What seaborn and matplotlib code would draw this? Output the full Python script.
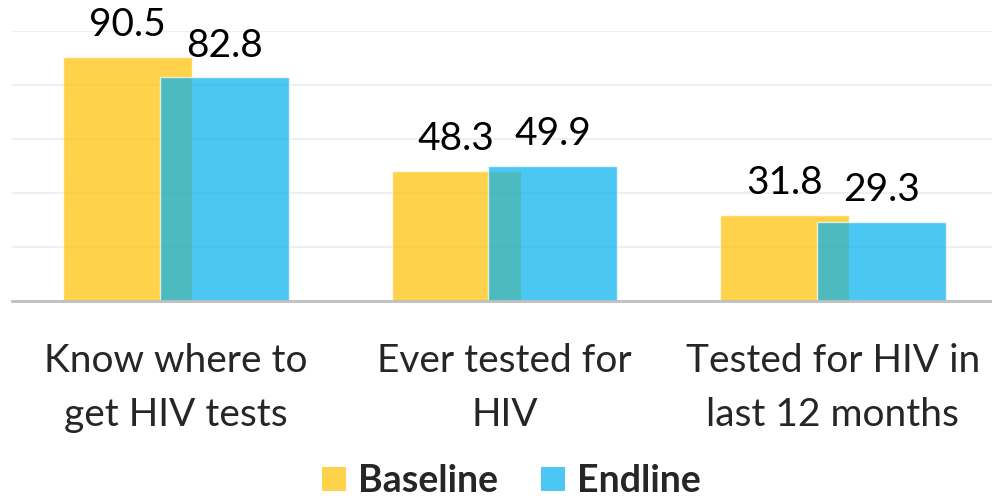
import matplotlib
matplotlib.use("Agg")
import matplotlib.pyplot as plt
import seaborn as sns
import pandas as pd
from matplotlib.lines import Line2D

# data
categories = ["Know where to\nget HIV tests", "Ever tested for\nHIV", "Tested for HIV in\nlast 12 months"]
baseline = [90.5, 48.3, 31.8]
endline = [82.8, 49.9, 29.3]
series = ["Baseline", "Endline"]
colors = {"Baseline": "#FFC000", "Endline": "#00B0F0"}

df = pd.DataFrame({
    "category": categories * 2,
    "value": baseline + endline,
    "series": ["Baseline"] * 3 + ["Endline"] * 3,
})

sns.set_theme(style="white")
plt.rcParams["font.family"] = ["Lato", "DejaVu Sans"]

fig = plt.figure(figsize=(9.92, 5.04), dpi=100)
ax = fig.add_axes([12 / 992, 203 / 504, 985 / 992, 270 / 504])

sns.barplot(data=df, x="category", y="value", hue="series", palette=colors,
            hue_order=series, width=0.59, alpha=0.7, saturation=1,
            legend=False, ax=ax)

# widen bars so the two series overlap, keeping each bar's centre
for p in ax.patches:
    cx = p.get_x() + p.get_width() / 2
    w = p.get_width() * 1.333
    p.set_x(cx - w / 2)
    p.set_width(w)

for cont in ax.containers:
    ax.bar_label(cont, fmt="%.1f", padding=10, fontsize=28, color="black")

ax.set_ylim(0, 100)
ax.set_xlim(-0.5, 2.5)
ax.set_yticks([0, 20, 40, 60, 80, 100])
ax.set_yticklabels([])
ax.grid(axis="y", color="#EFEFEF", linewidth=1.5)
ax.set_axisbelow(True)
ax.set_xlabel("")
ax.set_ylabel("")
for s in ["top", "left", "right"]:
    ax.spines[s].set_visible(False)
ax.spines["bottom"].set_color("#BFBFBF")
ax.spines["bottom"].set_linewidth(2)
ax.tick_params(axis="x", length=0, pad=30, labelsize=28)
ax.tick_params(axis="y", length=0)
for t in ax.get_xticklabels():
    t.set_linespacing(1.62)

handles = [Line2D([], [], marker="s", linestyle="", markersize=17,
                  markerfacecolor=colors[s], markeredgewidth=0, alpha=0.7)
           for s in series]
fig.legend(handles, series, loc="lower center", bbox_to_anchor=(0.513, -0.056),
           ncol=2, frameon=False, prop={"weight": "bold", "size": 27},
           handletextpad=0.2, columnspacing=1.0, handlelength=0.9)

fig.savefig("out.png", dpi=100)
